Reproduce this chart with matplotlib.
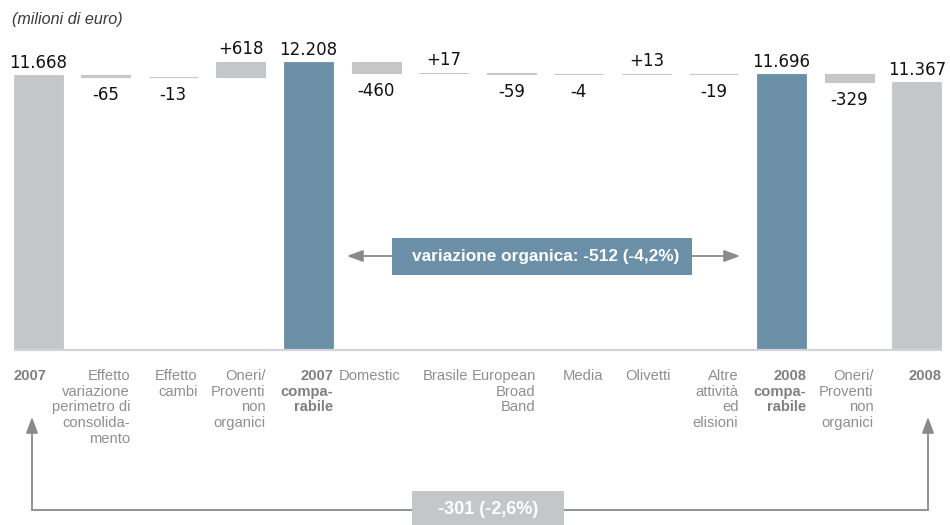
import matplotlib
matplotlib.use("Agg")
import matplotlib.pyplot as plt
from matplotlib.patches import Rectangle

# ---- data -------------------------------------------------------------
categories = [
    "2007",
    "Effetto\nvariazione\nperimetro di\nconsolida-\nmento",
    "Effetto\ncambi",
    "Oneri/\nProventi\nnon\norganici",
    "2007\ncompa-\nrabile",
    "Domestic",
    "Brasile",
    "European\nBroad\nBand",
    "Media",
    "Olivetti",
    "Altre\nattività\ned\nelisioni",
    "2008\ncompa-\nrabile",
    "Oneri/\nProventi\nnon\norganici",
    "2008",
]
values = [11668, -65, -13, 618, 12208, -460, 17, -59, -4, 13, -19, 11696, -329, 11367]
bar_kind = ["total", "delta", "delta", "delta", "comparable", "delta", "delta",
            "delta", "delta", "delta", "delta", "comparable", "delta", "total"]
unit_note = "(milioni di euro)"

# ---- styling ----------------------------------------------------------
GRAY = "#c5c6c8"
BLUE = "#6b8fa6"
LABEL_GRAY = "#8d8f91"
BOLD_GRAY = "#7e8082"
ARROW_GRAY = "#8a8a8a"
NUM_FONT = "DejaVu Sans"
CAT_FONT = "Liberation Sans"
BOX_FONT = "Liberation Sans"

W, H = 950, 525
fig = plt.figure(figsize=(W / 100, H / 100), dpi=100)
ax = fig.add_axes([0, 0, 1, 1])
ax.axis("off")

# pixel <-> data helpers (pixels measured from top-left of the figure)
BASE_PX = 350.0
PX_PER_UNIT = 275.0 / values[0]
X0_PX, STEP_PX = 38.0, 67.6


def ydat(p):
    return (BASE_PX - p) / PX_PER_UNIT


def xdat(p):
    return (p - X0_PX) / STEP_PX


ax.set_xlim(xdat(0), xdat(W))
ax.set_ylim(ydat(H), ydat(0))

BAR_W = 49.0 / STEP_PX
PT = 0.72  # points per pixel


def it_num(v):
    return f"{v:,}".replace(",", ".")


num_style = dict(fontsize=12, family=NUM_FONT, color="#111111", textcoords="offset points",
                 ha="center")

# ---- waterfall bars ---------------------------------------------------
level = 0
for i, (v, kind) in enumerate(zip(values, bar_kind)):
    if kind in ("total", "comparable"):
        level = v
        color = BLUE if kind == "comparable" else GRAY
        ax.bar(i, v, width=BAR_W, bottom=0, color=color, edgecolor=color, linewidth=0.6)
        ax.annotate(it_num(v), (i, v), xytext=(0, 7 * PT), va="baseline", **num_style)
    else:
        bottom = level if v > 0 else level + v
        top = level + v if v > 0 else level
        ax.bar(i, abs(v), width=BAR_W, bottom=bottom, color=GRAY, edgecolor=GRAY, linewidth=0.8)
        if v > 0:
            ax.annotate(f"{v:+d}", (i, top), xytext=(0, 8 * PT), va="baseline", **num_style)
        else:
            ax.annotate(f"{v:d}", (i, bottom), xytext=(0, -9 * PT), va="top", **num_style)
        level += v

# baseline
ax.plot([-BAR_W / 2, len(values) - 1 + BAR_W / 2], [0, 0], color="#d2d3d5", lw=1.6,
        solid_capstyle="butt", zorder=3)

# ---- category labels --------------------------------------------------
for i, (lab, kind) in enumerate(zip(categories, bar_kind)):
    bold = kind in ("total", "comparable")
    if i == 0:
        x, ha = i - BAR_W / 2, "left"
    else:
        x, ha = i + BAR_W / 2, "right"
    ax.text(x, ydat(369), lab, ha=ha, va="top", multialignment="right",
            fontsize=10.6, family=CAT_FONT, color=BOLD_GRAY if bold else LABEL_GRAY,
            fontweight="bold" if bold else "normal", linespacing=1.15)

# ---- unit note --------------------------------------------------------
ax.text(xdat(12), ydat(12), unit_note, ha="left", va="top", fontsize=11.6,
        family=BOX_FONT, style="italic", color="#3a3a3a")

# ---- organic change arrow --------------------------------------------
i_a = bar_kind.index("comparable")
i_b = len(bar_kind) - 1 - bar_kind[::-1].index("comparable")
org = values[i_b] - values[i_a]
org_pct = org / values[i_a] * 100
ya = ydat(256)
ax.annotate("", xy=(xdat(347), ya), xytext=(xdat(740), ya),
            arrowprops=dict(arrowstyle="<|-|>,head_length=0.8,head_width=0.3", color=ARROW_GRAY,
                            lw=1.3, mutation_scale=12, shrinkA=0, shrinkB=0))
ax.add_patch(Rectangle((xdat(392), ydat(275)), xdat(692) - xdat(392), ydat(238) - ydat(275),
                       facecolor=BLUE, edgecolor="none", zorder=4))
ax.text(xdat(546), ydat(257), f"variazione organica: {org:d} ({org_pct:.1f}%)".replace(".", ","),
        ha="center", va="center", fontsize=12.4, family=BOX_FONT, fontweight="bold",
        color="white", zorder=5)

# ---- total change bracket --------------------------------------------
tot = values[-1] - values[0]
tot_pct = tot / values[0] * 100
xl, xr = xdat(32), xdat(928)
y_tip, y_low = ydat(417), ydat(510)
ax.plot([xl, xl, xr, xr], [ydat(426), y_low, y_low, ydat(426)], color=ARROW_GRAY, lw=1.3,
        solid_joinstyle="miter")
for xx in (xl, xr):
    ax.annotate("", xy=(xx, y_tip), xytext=(xx, ydat(432)),
                arrowprops=dict(arrowstyle="-|>,head_length=0.8,head_width=0.3", color=ARROW_GRAY,
                                lw=1.3, mutation_scale=12, shrinkA=0, shrinkB=0))
ax.add_patch(Rectangle((xdat(412), ydat(530)), xdat(564) - xdat(412), ydat(491) - ydat(530),
                       facecolor=GRAY, edgecolor="none", zorder=4))
ax.text(xdat(488), ydat(510), f"{tot:d} ({tot_pct:.1f}%)".replace(".", ","),
        ha="center", va="center", fontsize=13, family=BOX_FONT, fontweight="bold",
        color="white", zorder=5)

fig.savefig("out.png", dpi=100)
